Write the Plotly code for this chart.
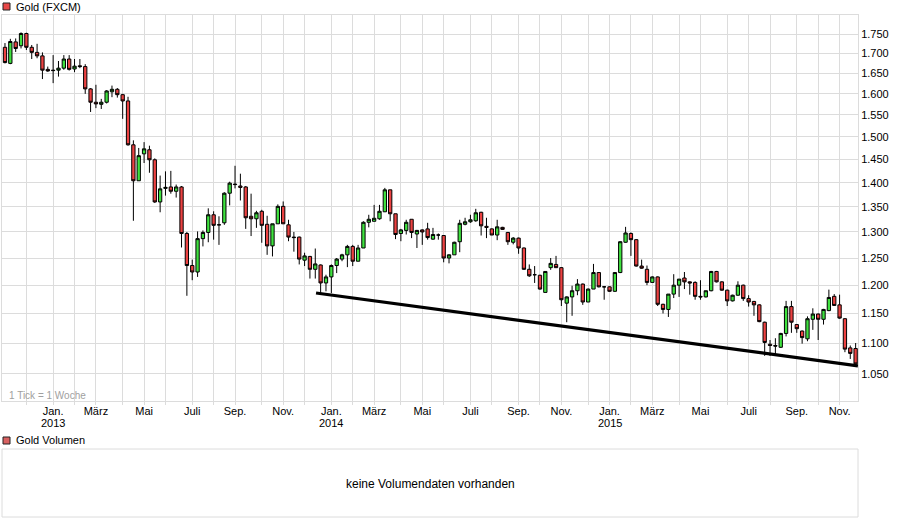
import math
import pandas as pd
import plotly.graph_objects as go

# Gold (FXCM), weekly candles, first week starts Monday 2012-10-29
week_start = "2012-10-29"

opens = [1716, 1675, 1730, 1720, 1752, 1716, 1703, 1694, 1660, 1658,
         1658, 1663, 1686, 1661, 1669, 1667, 1612, 1580, 1575, 1580,
         1605, 1611, 1598, 1583, 1482, 1404, 1462, 1471, 1449, 1360,
         1388, 1391, 1382, 1391, 1297, 1236, 1224, 1287, 1299, 1334,
         1314, 1318, 1378, 1397, 1393, 1391, 1331, 1326, 1341, 1315,
         1273, 1316, 1351, 1314, 1290, 1290, 1246, 1253, 1229, 1237,
         1204, 1215, 1236, 1248, 1256, 1272, 1244, 1269, 1319, 1321,
         1326, 1340, 1385, 1336, 1297, 1303, 1325, 1296, 1304, 1306,
         1286, 1294, 1293, 1250, 1256, 1281, 1315, 1320, 1322, 1339,
         1311, 1306, 1294, 1309, 1299, 1280, 1288, 1269, 1229, 1219,
         1218, 1187, 1232, 1238, 1232, 1168, 1179, 1190, 1202, 1170,
         1193, 1223, 1197, 1197, 1189, 1223, 1280, 1297, 1285, 1235,
         1229, 1205, 1215, 1166, 1157, 1184, 1200, 1213, 1206, 1205,
         1180, 1179, 1190, 1225, 1206, 1191, 1172, 1182, 1200, 1176,
         1171, 1165, 1135, 1098, 1096, 1093, 1116, 1162, 1131, 1120,
         1107, 1140, 1149, 1140, 1155, 1180, 1165, 1141, 1092, 1091]

highs = [1727, 1738, 1739, 1755, 1754, 1722, 1725, 1703, 1667, 1696,
         1681, 1696, 1696, 1686, 1686, 1673, 1614, 1622, 1588, 1609,
         1620, 1614, 1600, 1593, 1492, 1475, 1488, 1480, 1452, 1415,
         1424, 1425, 1396, 1393, 1300, 1247, 1301, 1303, 1347, 1341,
         1331, 1380, 1402, 1436, 1419, 1393, 1377, 1342, 1344, 1332,
         1316, 1355, 1361, 1324, 1300, 1291, 1260, 1254, 1268, 1238,
         1219, 1238, 1250, 1258, 1275, 1275, 1275, 1321, 1334, 1354,
         1354, 1389, 1385, 1336, 1306, 1324, 1325, 1304, 1305, 1318,
         1308, 1297, 1293, 1257, 1281, 1324, 1328, 1334, 1346, 1340,
         1328, 1307, 1324, 1310, 1300, 1290, 1289, 1270, 1238, 1235,
         1219, 1225, 1250, 1254, 1233, 1180, 1199, 1211, 1203, 1194,
         1239, 1224, 1198, 1198, 1224, 1282, 1310, 1299, 1286, 1247,
         1236, 1216, 1216, 1167, 1184, 1220, 1211, 1224, 1207, 1207,
         1209, 1190, 1226, 1226, 1207, 1192, 1183, 1207, 1201, 1182,
         1172, 1166, 1136, 1105, 1108, 1117, 1172, 1172, 1132, 1121,
         1145, 1159, 1150, 1158, 1192, 1184, 1183, 1142, 1096, 1100]

lows = [1675, 1673, 1704, 1713, 1709, 1686, 1688, 1636, 1654, 1626,
        1642, 1659, 1657, 1653, 1663, 1600, 1557, 1566, 1564, 1577,
        1592, 1591, 1541, 1480, 1322, 1404, 1442, 1421, 1358, 1339,
        1373, 1377, 1369, 1270, 1181, 1209, 1215, 1272, 1280, 1285,
        1275, 1314, 1353, 1388, 1363, 1306, 1292, 1308, 1279, 1256,
        1253, 1316, 1316, 1282, 1262, 1238, 1235, 1212, 1212, 1186,
        1189, 1186, 1222, 1244, 1233, 1235, 1244, 1269, 1309, 1321,
        1324, 1340, 1321, 1286, 1282, 1295, 1288, 1269, 1275, 1285,
        1285, 1285, 1242, 1240, 1256, 1261, 1313, 1318, 1320, 1293,
        1288, 1294, 1284, 1304, 1275, 1276, 1258, 1228, 1215, 1204,
        1192, 1187, 1228, 1232, 1163, 1135, 1146, 1182, 1165, 1170,
        1193, 1196, 1174, 1188, 1188, 1222, 1279, 1254, 1234, 1230,
        1200, 1204, 1163, 1150, 1144, 1177, 1179, 1193, 1183, 1174,
        1174, 1178, 1189, 1205, 1190, 1163, 1171, 1181, 1172, 1162,
        1146, 1135, 1079, 1079, 1079, 1092, 1111, 1117, 1117, 1099,
        1103, 1122, 1105, 1131, 1154, 1163, 1141, 1085, 1074, 1062]

closes = [1677, 1731, 1713, 1752, 1716, 1703, 1694, 1658, 1656, 1657,
          1663, 1686, 1660, 1668, 1667, 1612, 1580, 1576, 1580, 1607,
          1611, 1598, 1583, 1482, 1404, 1458, 1473, 1449, 1360, 1387,
          1390, 1382, 1391, 1297, 1236, 1224, 1287, 1299, 1334, 1313,
          1314, 1378, 1399, 1396, 1390, 1328, 1326, 1338, 1313, 1273,
          1316, 1351, 1316, 1290, 1289, 1248, 1254, 1229, 1239, 1204,
          1215, 1236, 1248, 1256, 1272, 1244, 1269, 1319, 1325, 1327,
          1341, 1385, 1336, 1295, 1304, 1319, 1299, 1303, 1300, 1289,
          1295, 1294, 1250, 1256, 1280, 1317, 1320, 1324, 1338, 1312,
          1309, 1294, 1310, 1305, 1281, 1288, 1269, 1229, 1217, 1219,
          1193, 1225, 1240, 1232, 1174, 1179, 1190, 1202, 1170, 1193,
          1223, 1197, 1197, 1189, 1223, 1281, 1298, 1285, 1235, 1231,
          1205, 1215, 1166, 1157, 1184, 1200, 1211, 1206, 1204, 1180,
          1179, 1190, 1225, 1206, 1191, 1172, 1182, 1200, 1176, 1170,
          1165, 1136, 1101, 1096, 1095, 1116, 1162, 1135, 1124, 1109,
          1141, 1149, 1140, 1157, 1178, 1164, 1142, 1090, 1083, 1066]

# support line drawn on the chart
trend_dates = ["2013-12-10", "2015-11-19"]
trend_values = [1186, 1063]

y_ticks = [1050, 1100, 1150, 1200, 1250, 1300, 1350, 1400, 1450,
           1500, 1550, 1600, 1650, 1700, 1750]
month_labels = {1: "Jan.", 3: "März", 5: "Mai", 7: "Juli", 9: "Sep.", 11: "Nov."}

dates = pd.date_range(week_start, periods=len(opens), freq="7D")

# month grid sits on the candle of the week holding the 1st
months = pd.date_range("2012-12-01", dates[-1], freq="MS")
tick_vals, tick_text, year_ticks = [], [], []
for m in months:
    week = m - pd.Timedelta(days=m.weekday())
    tick_vals.append(week)
    tick_text.append(month_labels.get(m.month, ""))
    if m.month == 1:
        year_ticks.append((week, str(m.year)))

W, H = 900, 526
L, R, T, B = 2, 858, 15, 517  # plotting region in pixels


def px(x):
    return (x - L) / (R - L)


def py(y):
    return (B - y) / (B - T)


font = "Liberation Sans, Arial, sans-serif"
green = "#3fe23f"
red = "#ec4242"
grid = "#dcdcdc"

candles = go.Candlestick(
    x=dates, open=opens, high=highs, low=lows, close=closes,
    increasing=dict(fillcolor=green, line=dict(color="black", width=1)),
    decreasing=dict(fillcolor=red, line=dict(color="black", width=1)),
    whiskerwidth=0, showlegend=False, hoverinfo="skip",
)

trend = go.Scatter(
    x=trend_dates, y=trend_values, mode="lines",
    line=dict(color="black", width=3.2), showlegend=False, hoverinfo="skip",
)

fig = go.Figure(data=[candles, trend])

fig.update_layout(
    width=W, height=H,
    margin=dict(l=L, r=W - R, t=T, b=H - B, pad=0),
    paper_bgcolor="white", plot_bgcolor="white",
    separators=",.",
    boxgap=0.12,
    font=dict(family=font, size=11, color="black"),
    hovermode=False,
    xaxis=dict(
        type="date",
        range=[dates[0] - pd.Timedelta(days=3.9), dates[-1] + pd.Timedelta(days=3.1)],
        rangeslider=dict(visible=False),
        tickvals=tick_vals, ticktext=tick_text, tickangle=0,
        showgrid=True, gridcolor=grid, gridwidth=1,
        ticks="",
        minor=dict(tickvals=tick_vals, ticks="outside", ticklen=3,
                   tickcolor=grid, showgrid=False),
        showline=True, mirror=True, linecolor=grid, linewidth=1,
        tickfont=dict(size=11, color="black"),
        zeroline=False,
    ),
    yaxis=dict(
        type="log",
        domain=[py(401), 1],
        range=[math.log10(1008.2), math.log10(1801.4)],
        side="right",
        tickvals=y_ticks, tickformat=",d",
        showgrid=True, gridcolor=grid, gridwidth=1,
        ticks="",
        showline=True, mirror=True, linecolor=grid, linewidth=1,
        tickfont=dict(size=11, color="black"),
        zeroline=False,
    ),
)

shapes = [
    # legend marker of the price panel
    dict(type="rect", xref="paper", yref="paper",
         x0=px(3), x1=px(10), y0=py(10), y1=py(3),
         fillcolor="#e84848", line=dict(color="#222", width=1)),
    # legend marker of the volume panel
    dict(type="rect", xref="paper", yref="paper",
         x0=px(3), x1=px(10), y0=py(444), y1=py(437),
         fillcolor="#d86060", line=dict(color="#222", width=1)),
    # empty volume panel
    dict(type="rect", xref="paper", yref="paper",
         x0=0, x1=1, y0=0, y1=py(449),
         fillcolor="white", line=dict(color=grid, width=1)),
]

annotations = [
    dict(text="Gold (FXCM)", xref="paper", yref="paper", x=px(14), y=py(7),
         xanchor="left", yanchor="middle", showarrow=False,
         font=dict(size=11, color="black")),
    dict(text="Gold Volumen", xref="paper", yref="paper", x=px(14), y=py(440),
         xanchor="left", yanchor="middle", showarrow=False,
         font=dict(size=11, color="black")),
    dict(text="keine Volumendaten vorhanden", xref="paper", yref="paper",
         x=0.5, y=py(484), xanchor="center", yanchor="middle", showarrow=False,
         font=dict(size=12, color="black")),
    dict(text="1 Tick = 1 Woche", xref="paper", yref="paper", x=px(7), y=py(395),
         xanchor="left", yanchor="middle", showarrow=False,
         font=dict(size=10, color="#a0a0a0")),
]
for wk, yr in year_ticks:
    annotations.append(dict(text=yr, xref="x", yref="paper", x=wk, y=py(423),
                            xanchor="center", yanchor="middle", showarrow=False,
                            font=dict(size=11, color="black")))

fig.update_layout(shapes=shapes, annotations=annotations)

# the page must not add its own body margin around the figure
fig.write_html("out.html", config={"displayModeBar": False},
               post_script="document.body.style.margin='0';")
